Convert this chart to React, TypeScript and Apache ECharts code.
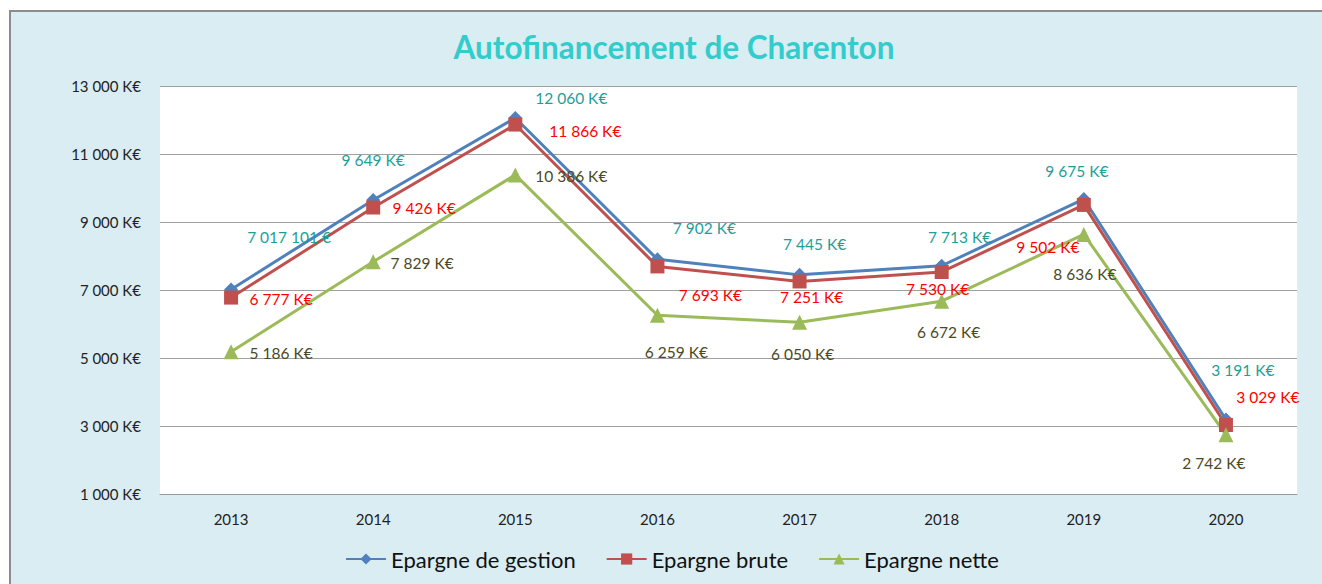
import React, { useEffect, useRef } from "react";
import * as echarts from "echarts";

const years = ["2013", "2014", "2015", "2016", "2017", "2018", "2019", "2020"];
const gestion = [7017, 9649, 12060, 7902, 7445, 7713, 9675, 3191];
const brute = [6777, 9426, 11866, 7693, 7251, 7530, 9502, 3029];
const nette = [5186, 7829, 10386, 6259, 6050, 6672, 8636, 2742];
const gestionLabelOverride: Record<number, string> = { 0: "7 017 101 €" };
const seriesNames = ["Epargne de gestion", "Epargne brute", "Epargne nette"];
const yMin = 1000;
const yMax = 13000;
const yStep = 2000;

// label offsets (layout only)
const gOff = [[58, -52], [0, -40], [56, -20], [47, -31], [15, -31], [18, -29], [-7, -28], [17, -50]];
const bOff = [[50, 1], [51, 0], [70, 6], [53, 29], [12, 16], [-4, 17], [-36, 42], [42, -28]];
const nOff = [[50, 1], [49, 1], [56, 1], [19, 37], [3, 32], [7, 31], [1, 40], [-12, 28]];

const FONT = "Lato";

function fmt(v: number): string {
  return String(Math.round(v)).replace(/\B(?=(\d{3})+(?!\d))/g, " ") + " K€";
}

export default function App() {
  const ref = useRef<HTMLDivElement>(null);
  useEffect(() => {
    if (!ref.current) return;
    const chart = echarts.init(ref.current, null, { renderer: "svg" });
    const mk = (
      name: string,
      vals: number[],
      offs: number[][],
      color: string,
      labelColor: string,
      symbol: string,
      symbolSize: number,
      override?: Record<number, string>
    ) => ({
      name,
      type: "line",
      symbol,
      symbolSize,
      lineStyle: { color, width: 3 },
      itemStyle: { color },
      data: vals.map((v, i) => ({
        value: v,
        label: { offset: offs[i] },
      })),
      label: {
        show: true,
        position: "inside",
        color: labelColor,
        fontSize: 15.5,
        fontFamily: FONT,
        formatter: (p: any) =>
          override && override[p.dataIndex] ? override[p.dataIndex] : fmt(p.value),
      },
      emphasis: { disabled: true },
    });
    chart.setOption({
      animation: false,
      backgroundColor: "#ffffff",
      graphic: [
        {
          type: "rect",
          shape: { x: 10, y: 11, width: 1330, height: 600 },
          style: { fill: "#DAEDF3", stroke: "#8c8c8c", lineWidth: 2 },
          z: -10,
          silent: true,
        },
      ],
      title: {
        text: "Autofinancement de Charenton",
        left: 669,
        textAlign: "center",
        top: 26,
        textStyle: {
          color: "#33CCCC",
          fontSize: 31.5,
          fontWeight: "bold",
          fontFamily: FONT,
        },
      },
      grid: {
        left: 160,
        right: 25,
        top: 86,
        bottom: 90,
        show: true,
        backgroundColor: "#ffffff",
        borderWidth: 0,
      },
      legend: {
        bottom: 9,
        left: 340,
        itemWidth: 40,
        itemHeight: 14,
        itemGap: 30,
        textStyle: { fontSize: 22, fontFamily: FONT, color: "#111" },
        data: seriesNames,
      },
      xAxis: {
        type: "category",
        data: years,
        boundaryGap: true,
        axisLine: { lineStyle: { color: "#999", width: 1 } },
        axisTick: { show: false },
        axisLabel: { color: "#222", fontSize: 15, fontFamily: FONT, margin: 17 },
      },
      yAxis: {
        type: "value",
        min: yMin,
        max: yMax,
        interval: yStep,
        axisLine: { show: false },
        axisTick: { show: false },
        splitLine: { lineStyle: { color: "#a0a0a0", width: 1 } },
        axisLabel: {
          color: "#222",
          fontSize: 15,
          fontFamily: FONT,
          margin: 19,
          formatter: (v: number) => fmt(v),
        },
      },
      series: [
        mk(seriesNames[0], gestion, gOff, "#4F81BD", "#1E9E98", "diamond", 14, gestionLabelOverride),
        mk(seriesNames[1], brute, bOff, "#C0504D", "#FF0000", "rect", 14),
        mk(seriesNames[2], nette, nOff, "#9BBB59", "#4A4A24", "triangle", 15),
      ],
    });
    return () => chart.dispose();
  }, []);
  return (
    <div
      ref={ref}
      style={{ position: "absolute", left: 0, top: 0, width: 1322, height: 584 }}
    />
  );
}
